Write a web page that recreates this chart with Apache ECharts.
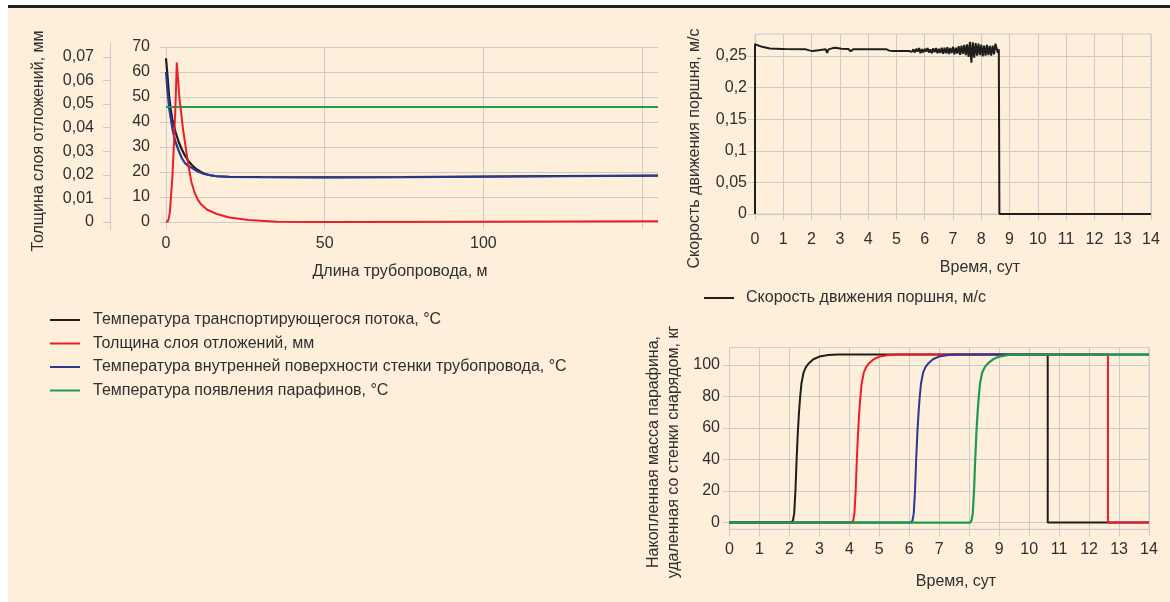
<!DOCTYPE html>
<html>
<head>
<meta charset="utf-8">
<script src="https://cdn.jsdelivr.net/npm/echarts@6/dist/echarts.min.js"></script>
<style>
  html, body { margin: 0; padding: 0; background: #ffffff; }
  #bg { position: absolute; left: 8px; top: 8px; width: 1162px; height: 594px; background: #fdefd9; }
  #rule { position: absolute; left: 8px; top: 5px; width: 1162px; height: 3px; background: #231f20; }
  #chart { position: absolute; left: 0; top: 0; width: 1170px; height: 602px; }
</style>
</head>
<body>
<div id="bg"></div>
<div id="rule"></div>
<div id="chart"></div>
<script>
// ---------------- DATA ----------------
// Left chart: along the pipeline length (m)
const lengthTicks = [0, 50, 100, 150];
const lengthLabels = [0, 50, 100];
const tempTicks = [0, 10, 20, 30, 40, 50, 60, 70];
const mmTicks = [0, 0.01, 0.02, 0.03, 0.04, 0.05, 0.06, 0.07];

const flowTemp = [[0,65.5],[0.5,58],[1,50],[1.5,45],[2,41],[3,36],[4,32],[5,29],[6,26.5],[7,24.5],[8,23],[9,21.8],[10,20.8],[11,20],[12,19.4],[13,19],[14,18.7],[16,18.3],[20,18.1],[30,18],[50,17.9],[75,18],[100,18.2],[125,18.4],[155,18.6]];
const wallTemp = [[0,60],[0.5,52],[1,45.5],[1.5,41.5],[2,37.5],[2.5,34.5],[3,32],[4,28.5],[5,25.5],[6,23.5],[7,22.4],[8,21.8],[9,21],[10,20.2],[12,19.2],[14,18.7],[16,18.3],[20,18],[30,17.9],[50,17.8],[75,17.9],[100,18.1],[125,18.3],[155,18.5]];
const waxAppearTemp = [[0,46],[155,46]];
const depositMm = [[0,0],[0.7,0.0005],[1.0,0.001],[1.2,0.004],[2,0.019],[2.5,0.033],[3,0.05],[3.4,0.0676],[4.2,0.053],[5.4,0.039],[7,0.0245],[8,0.017],[9,0.0125],[10,0.0095],[11,0.0075],[13,0.0052],[16,0.0034],[20,0.0019],[26,0.0008],[35,0.0001],[50,0],[100,0.0001],[155,0.0003]];

// Top-right chart: piston speed (m/s) vs time (days)
const dayTicks = [0,1,2,3,4,5,6,7,8,9,10,11,12,13,14];
const speedTicks = [0, 0.05, 0.1, 0.15, 0.2, 0.25];
const pistonSpeed = [
  [0,0],[0,0.2685],[0.06,0.2685],[0.25,0.2645],[0.53,0.262],[0.95,0.2612],[1.0,0.2595],[1.05,0.261],
  [1.8,0.2605],[1.95,0.2585],[2.05,0.2578],[2.12,0.2605],[2.5,0.2605],[2.55,0.2548],[2.6,0.2605],
  [2.75,0.2625],[2.85,0.263],[2.92,0.2605],[3.05,0.2615],[3.3,0.261],[3.38,0.2575],[3.42,0.2552],
  [3.47,0.2605],[3.95,0.2605],[4.0,0.2595],[4.05,0.2605],[4.65,0.2605],[4.75,0.2585],[4.85,0.258],[5.45,0.258],
  [5.50,0.259],[5.55,0.2565],[5.60,0.2605],[5.65,0.2555],[5.70,0.2615],[5.75,0.257],[5.80,0.2625],[5.85,0.2545],[5.90,0.261],
  [5.95,0.2555],[6.00,0.2615],[6.05,0.257],[6.10,0.2625],[6.15,0.2555],[6.20,0.2605],[6.25,0.2545],[6.30,0.262],
  [6.35,0.256],[6.40,0.2625],[6.45,0.2545],[6.50,0.2615],[6.55,0.255],[6.60,0.263],
  [6.65,0.2535],[6.70,0.263],[6.75,0.2545],[6.80,0.264],[6.85,0.253],[6.90,0.2625],[6.95,0.2545],[7.00,0.2645],
  [7.05,0.2525],[7.10,0.263],[7.15,0.254],[7.20,0.2655],
  [7.25,0.252],[7.30,0.2665],[7.35,0.2535],[7.40,0.2675],[7.45,0.2515],[7.50,0.2685],
  [7.55,0.2485],[7.60,0.2725],[7.65,0.2395],[7.70,0.2715],[7.75,0.2475],[7.80,0.2705],[7.85,0.2505],[7.90,0.2695],
  [7.95,0.2515],[8.00,0.268],[8.05,0.2495],[8.10,0.2665],[8.15,0.2505],[8.20,0.2675],[8.25,0.2515],[8.30,0.266],
  [8.35,0.2505],[8.40,0.2665],[8.45,0.2525],[8.50,0.2695],[8.55,0.2725],[8.58,0.255],[8.62,0.2605],[8.64,0.26],
  [8.64,0],[14,0]
];

// Bottom-right chart: accumulated paraffin mass removed by the pig (kg) vs time (days)
const massTicks = [0, 20, 40, 60, 80, 100];
const massRun1 = [[0,0],[2.07,0],[2.12,1.5],[2.16,6],[2.2,20],[2.24,40],[2.28,57],[2.32,70],[2.36,80],[2.4,88],[2.47,95],[2.55,98.5],[2.65,101],[2.8,103.5],[3.0,105.2],[3.3,106.2],[3.6,106.5],[10.62,106.5],[10.62,0],[14,0]];
const massRun2 = [[0,0],[4.08,0],[4.13,1.5],[4.17,6],[4.21,20],[4.25,40],[4.29,57],[4.33,70],[4.37,80],[4.41,88],[4.48,95],[4.56,98.5],[4.66,101],[4.81,103.5],[5.01,105.2],[5.31,106.2],[5.61,106.5],[12.63,106.5],[12.63,0],[14,0]];
const massRun3 = [[0,0],[6.06,0],[6.11,1.5],[6.15,6],[6.19,20],[6.23,40],[6.27,57],[6.31,70],[6.35,80],[6.39,88],[6.46,95],[6.54,98.5],[6.64,101],[6.79,103.5],[6.99,105.2],[7.29,106.2],[7.59,106.5],[14,106.5]];
const massRun4 = [[0,0],[8.03,0],[8.08,1.5],[8.12,6],[8.16,20],[8.2,40],[8.24,57],[8.28,70],[8.32,80],[8.36,88],[8.43,95],[8.52,98.5],[8.63,101],[8.8,103.5],[9.0,105.2],[9.3,106.2],[9.6,106.5],[14,106.5]];

// Names / texts
const nameFlow = 'Температура транспортирующегося потока, °С';
const nameDeposit = 'Толщина слоя отложений, мм';
const nameWall = 'Температура внутренней поверхности стенки трубопровода, °С';
const nameWax = 'Температура появления парафинов, °С';
const nameSpeed = 'Скорость движения поршня, м/с';

// ---------------- STYLE ----------------
const FONT = '"Liberation Sans", Arial, Helvetica, sans-serif';
const TXT = '#2f2f2f';
const GRIDC = '#cbcbcb';
const C_BLACK = '#1e1e1e', C_RED = '#ea1f2a', C_BLUE = '#2b3990', C_GREEN = '#1f9b4f';
const fmt = v => String(+(+v).toFixed(3)).replace('.', ',');
const lbl = (margin, extra) => Object.assign({ color: TXT, fontSize: 16, fontFamily: FONT, margin: margin, formatter: fmt }, extra || {});
const line = (name, data, color, xi, yi, w) => ({
  type: 'line', name: name, data: data, xAxisIndex: xi, yAxisIndex: yi,
  symbol: 'none', showSymbol: false, animation: false, clip: true,
  lineStyle: { color: color, width: w || 2 }, itemStyle: { color: color }, z: 3
});

const chart = echarts.init(document.getElementById('chart'), null, { renderer: 'canvas' });

const option = {
  animation: false,
  backgroundColor: 'transparent',
  textStyle: { fontFamily: FONT },
  grid: [
    { left: 166, top: 47, width: 492, height: 175, containLabel: false },
    { left: 110, top: 43, width: 10, height: 187, containLabel: false },
    { left: 755, top: 34, width: 396, height: 180, containLabel: false, show: true, borderColor: GRIDC, borderWidth: 1 },
    { left: 729.5, top: 347.6, width: 419.5, height: 181.7, containLabel: false, show: true, borderColor: GRIDC, borderWidth: 1 }
  ],
  xAxis: [
    { gridIndex: 0, type: 'value', min: 0, max: 155, interval: 50,
      axisLine: { show: true, onZero: true, lineStyle: { color: GRIDC } },
      axisTick: { show: true, length: 7, lineStyle: { color: GRIDC }, customValues: lengthTicks },
      axisLabel: lbl(14, { customValues: lengthLabels }),
      splitLine: { show: true, lineStyle: { color: [GRIDC, GRIDC, GRIDC, GRIDC, 'rgba(0,0,0,0)'] } } },
    { gridIndex: 1, type: 'value', min: 0, max: 1, show: false },
    { gridIndex: 2, type: 'value', min: 0, max: 14, interval: 1,
      axisLine: { show: true, onZero: false, lineStyle: { color: GRIDC } },
      axisTick: { show: true, length: 6, lineStyle: { color: GRIDC } },
      axisLabel: lbl(18, { customValues: dayTicks }),
      splitLine: { show: true, lineStyle: { color: GRIDC } } },
    { gridIndex: 3, type: 'value', min: 0, max: 14, interval: 1, position: 'bottom',
      axisLine: { show: true, onZero: false, lineStyle: { color: GRIDC } },
      axisTick: { show: true, length: 7, lineStyle: { color: GRIDC } },
      axisLabel: lbl(12.5, { customValues: dayTicks }),
      splitLine: { show: true, lineStyle: { color: GRIDC } } }
  ],
  yAxis: [
    { gridIndex: 0, type: 'value', min: 0, max: 70, interval: 10,
      axisLine: { show: true, lineStyle: { color: GRIDC } },
      axisTick: { show: true, length: 6, lineStyle: { color: GRIDC } },
      axisLabel: lbl(16, { customValues: tempTicks }),
      splitLine: { show: true, lineStyle: { color: GRIDC } } },
    { gridIndex: 1, type: 'value', min: -0.0034, max: 0.0759, splitNumber: 8,
      axisLine: { show: true, onZero: false, lineStyle: { color: GRIDC } },
      axisTick: { show: true, length: 7, lineStyle: { color: GRIDC }, customValues: mmTicks },
      axisLabel: lbl(16, { customValues: mmTicks }),
      splitLine: { show: false } },
    { gridIndex: 0, type: 'value', min: 0, max: 0.07422, show: false, splitLine: { show: false } },
    { gridIndex: 2, type: 'value', min: 0, max: 0.2848,
      axisLine: { show: true, lineStyle: { color: GRIDC } },
      axisTick: { show: true, length: 7, lineStyle: { color: GRIDC }, customValues: speedTicks },
      axisLabel: lbl(8, { customValues: speedTicks }),
      splitLine: { show: true, lineStyle: { color: GRIDC } } },
    { gridIndex: 3, type: 'value', min: -4.25, max: 110.9,
      axisLine: { show: true, onZero: false, lineStyle: { color: GRIDC } },
      axisTick: { show: true, length: 7, lineStyle: { color: GRIDC }, customValues: massTicks },
      axisLabel: lbl(9.5, { customValues: massTicks }),
      splitLine: { show: true, lineStyle: { color: GRIDC } } }
  ],
  legend: [
    { left: 50, top: 312, orient: 'vertical', padding: 0, icon: 'rect', itemWidth: 30, itemHeight: 2, itemGap: 7.5,
      selectedMode: false, data: [nameFlow, nameDeposit, nameWall, nameWax],
      textStyle: { color: TXT, fontSize: 16, fontFamily: FONT, padding: [0, 0, 0, 8] } },
    { left: 704, top: 290, orient: 'vertical', padding: 0, icon: 'rect', itemWidth: 30, itemHeight: 2,
      selectedMode: false, data: [nameSpeed],
      textStyle: { color: TXT, fontSize: 16, fontFamily: FONT, padding: [0, 0, 0, 7] } }
  ],
  graphic: [
    { type: 'text', x: 38.5, y: 141, rotation: Math.PI / 2,
      style: { text: 'Толщина слоя отложений, мм', fill: TXT, font: '16px ' + FONT, align: 'center', verticalAlign: 'middle' } },
    { type: 'text', x: 400, y: 272,
      style: { text: 'Длина трубопровода, м', fill: TXT, font: '16px ' + FONT, align: 'center', verticalAlign: 'middle' } },
    { type: 'text', x: 695, y: 148.5, rotation: Math.PI / 2,
      style: { text: 'Скорость движения поршня, м/с', fill: TXT, font: '16px ' + FONT, align: 'center', verticalAlign: 'middle' } },
    { type: 'text', x: 980, y: 268,
      style: { text: 'Время, сут', fill: TXT, font: '16px ' + FONT, align: 'center', verticalAlign: 'middle' } },
    { type: 'text', x: 663.7, y: 452, rotation: Math.PI / 2,
      style: { text: 'Накопленная масса парафина,\nудаленная со стенки снарядом, кг', fill: TXT, font: '16px ' + FONT,
               lineHeight: 20.3, align: 'center', verticalAlign: 'middle' } },
    { type: 'text', x: 956, y: 582,
      style: { text: 'Время, сут', fill: TXT, font: '16px ' + FONT, align: 'center', verticalAlign: 'middle' } }
  ],
  series: [
    line(nameFlow, flowTemp, C_BLACK, 0, 0, 2.2),
    line(nameWall, wallTemp, C_BLUE, 0, 0, 2.2),
    line(nameWax, waxAppearTemp, C_GREEN, 0, 0, 2),
    line(nameDeposit, depositMm, C_RED, 0, 2, 2),
    line(nameSpeed, pistonSpeed, C_BLACK, 2, 3, 2),
    line('run1', massRun1, C_BLACK, 3, 4, 2),
    line('run2', massRun2, C_RED, 3, 4, 2),
    line('run3', massRun3, C_BLUE, 3, 4, 2),
    line('run4', massRun4, C_GREEN, 3, 4, 2.2)
  ]
};
chart.setOption(option);
</script>
</body>
</html>
